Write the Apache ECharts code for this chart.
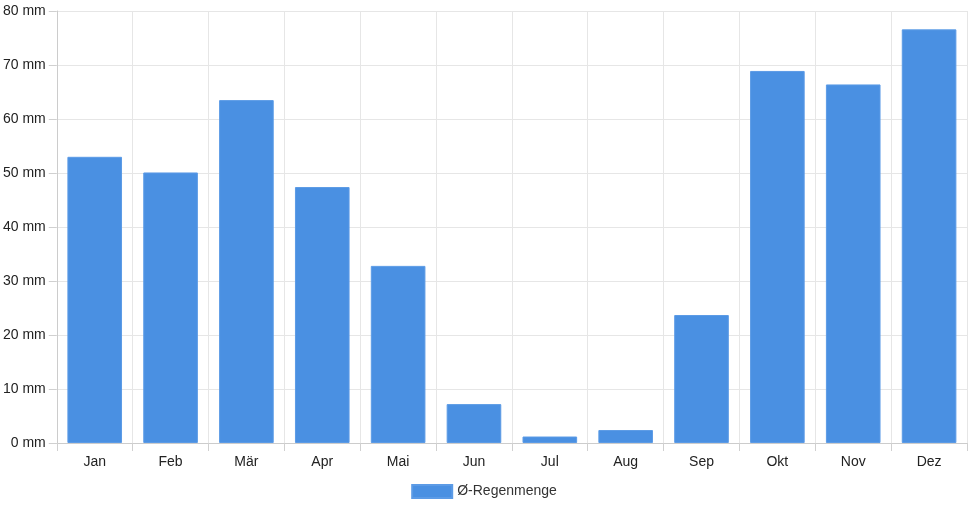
<!DOCTYPE html>
<html lang="de">
<head>
    <meta charset="UTF-8">
    <title>Regenmenge</title>
    <script src="https://cdn.jsdelivr.net/npm/echarts@6/dist/echarts.min.js"></script>
    <style>
        html, body { margin: 0; padding: 0; background: #fff; }
        #chart { width: 968px; height: 508px; }
    </style>
</head>
<body>
<div id="chart"></div>
<script type="text/javascript">
    // Monate und mittlere Regenmenge (mm)
    var months = ['Jan', 'Feb', 'Mär', 'Apr', 'Mai', 'Jun', 'Jul', 'Aug', 'Sep', 'Okt', 'Nov', 'Dez'];
    var rain = [53.0, 50.1, 63.5, 47.4, 32.8, 7.2, 1.2, 2.4, 23.7, 68.9, 66.4, 76.6];
    var seriesName = 'Ø-Regenmenge';

    var myChart = echarts.init(document.getElementById('chart'));
    var option = {
        animation: false,
        textStyle: { fontFamily: 'Liberation Sans, Arial, sans-serif' },
        grid: { left: 56, right: 1, top: 11, bottom: 65 },
        legend: {
            data: [{ name: seriesName, icon: 'rect' }],
            bottom: 4,
            left: 'center',
            itemWidth: 40,
            itemHeight: 13,
            itemGap: 10,
            textStyle: { fontSize: 14, color: '#333' }
        },
        xAxis: {
            type: 'category',
            data: months,
            axisLine: { lineStyle: { color: '#ccc' } },
            axisTick: { show: true, length: 8, lineStyle: { color: '#d0d0d0' } },
            axisLabel: { color: '#222', fontSize: 14, margin: 12 },
            splitLine: { show: true, lineStyle: { color: '#e6e6e6' } }
        },
        yAxis: {
            type: 'value',
            min: 0,
            max: 80,
            interval: 10,
            axisLine: { show: true, lineStyle: { color: '#ccc' } },
            axisTick: { show: true, inside: false, length: 8, lineStyle: { color: '#d0d0d0', width: 1 } },
            axisLabel: { color: '#222', fontSize: 14, margin: 11, formatter: '{value} mm' },
            splitLine: { show: true, lineStyle: { color: '#e6e6e6' } }
        },
        series: [{
            name: seriesName,
            type: 'bar',
            data: rain,
            barWidth: '72%',
            itemStyle: { color: '#4a90e2', borderColor: '#5c9be6', borderWidth: 1 }
        }]
    };
    myChart.setOption(option);
</script>
</body>
</html>
